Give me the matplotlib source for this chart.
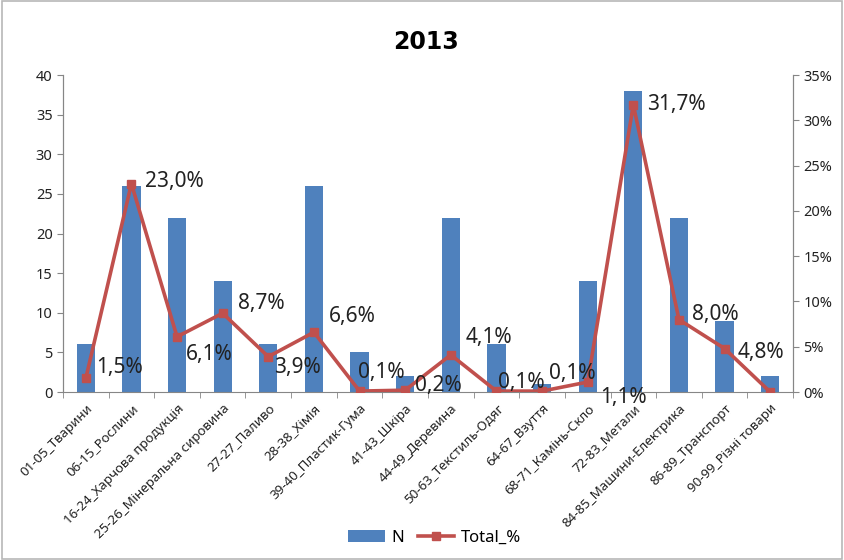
import numpy as np
import matplotlib
matplotlib.use("Agg")
import matplotlib.pyplot as plt
from matplotlib.patches import Rectangle
from matplotlib.ticker import FuncFormatter

#------------------------------------------------------------------------------------------------
# data
categories = ["01-05_Тварини", "06-15_Рослини", "16-24_Харчова продукція",
              "25-26_Мінеральна сировина", "27-27_Паливо", "28-38_Хімія",
              "39-40_Пластик-Гума", "41-43_Шкіра", "44-49_Деревина",
              "50-63_Текстиль-Одяг", "64-67_Взуття", "68-71_Камінь-Скло",
              "72-83_Метали", "84-85_Машини-Електрика", "86-89_Транспорт",
              "90-99_Різні товари"]
n_values = [6, 26, 22, 14, 6, 26, 5, 2, 22, 6, 1, 14, 38, 22, 9, 2]
total_pct = [1.5, 23.0, 6.1, 8.7, 3.9, 6.6, 0.1, 0.2, 4.1, 0.1, 0.1, 1.1, 31.7, 8.0, 4.8, 0.0]
pct_labels = ["1,5%", "23,0%", "6,1%", "8,7%", "3,9%", "6,6%", "0,1%", "0,2%",
              "4,1%", "0,1%", "0,1%", "1,1%", "31,7%", "8,0%", "4,8%", ""]

# label offsets in pixels (Excel placed them a bit off)
label_dx = [10, 14, 9, 15, 6, 15, -2, 10, 15, 2, 7, 12, 14, 13, 13, 0]
label_dy = [11, 2, -18, 10, -11, 16, 19, 5, 17, 9, 18, -15, 0, 5, -4, 0]

BLUE = "#4F81BD"
RED = "#C0504D"
AXIS = "#868686"

plt.rcParams['font.family'] = ['Noto Sans', 'DejaVu Sans']

#------------------------------------------------------------------------------------------------
fig = plt.figure(figsize=(8.44, 5.6), dpi=100)
fig.patches.append(Rectangle((0.002, 0.002), 0.996, 0.996, transform=fig.transFigure,
                             fill=False, edgecolor="#b8b8b8", linewidth=1.2))
ax = fig.add_axes([0.0746, 0.30, 0.865, 0.566])
ax2 = ax.twinx()

x = np.arange(len(categories))
bars = ax.bar(x, n_values, width=0.4, color=BLUE, label="N", zorder=2)
line, = ax2.plot(x, [v / 100 for v in total_pct], color=RED, linewidth=2.6,
                 marker="s", markersize=5.5, label="Total_%", zorder=3)

for i, lab in enumerate(pct_labels):
    if lab:
        ax2.annotate(lab, (x[i], total_pct[i] / 100), xytext=(label_dx[i], label_dy[i]),
                     textcoords="offset pixels", ha="left", va="center",
                     fontsize=15, color="#222222", zorder=4)

ax.set_xlim(-0.5, len(categories) - 0.5)
ax.set_ylim(0, 40)
ax.set_yticks(range(0, 41, 5))
ax2.set_ylim(0, 0.35)
ax2.set_yticks(np.arange(0, 0.351, 0.05))
ax2.yaxis.set_major_formatter(FuncFormatter(lambda v, p: f"{v * 100:.0f}%"))

ax.set_xticks(x)
ax.set_xticklabels(categories, rotation=45, ha="right", rotation_mode="anchor",
                   fontsize=9.6, color="#222222")
ax.set_xticks(np.arange(-0.5, len(categories), 1), minor=True)
ax.tick_params(axis="x", which="major", length=0, pad=7)
ax.tick_params(axis="x", which="minor", length=4, color=AXIS)
ax.tick_params(axis="y", length=4, color=AXIS, labelsize=10.5, labelcolor="#222222")
ax2.tick_params(axis="y", length=4, color=AXIS, labelsize=10.5, labelcolor="#222222")

for a in (ax, ax2):
    a.spines["top"].set_visible(False)
    for s in ("left", "right", "bottom"):
        a.spines[s].set_color(AXIS)
ax2.spines["bottom"].set_visible(False)

fig.text(0.505, 0.925, "2013", ha="center", va="center", fontsize=17,
         fontweight="bold", family=["DejaVu Sans"])

fig.legend([bars, line], ["N", "Total_%"], loc="center", bbox_to_anchor=(0.515, 0.04),
           ncol=2, frameon=False, fontsize=12, handlelength=2.2,
           columnspacing=0.8, handletextpad=0.4)

plt.savefig("out.png", dpi=100)
